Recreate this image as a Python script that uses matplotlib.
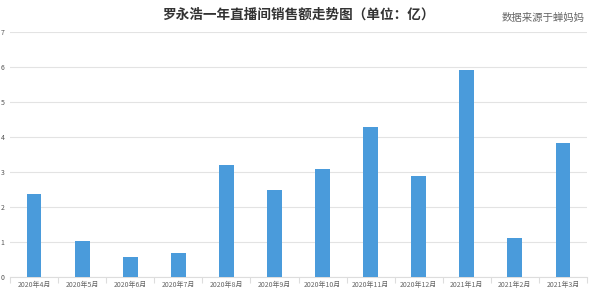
import numpy as np
import matplotlib.pyplot as plt

plt.rcParams['font.family'] = ['Noto Sans CJK SC', 'DejaVu Sans']

# Monthly live-stream sales (unit: 100 million yuan)
months = ['2020年4月', '2020年5月', '2020年6月', '2020年7月', '2020年8月', '2020年9月',
          '2020年10月', '2020年11月', '2020年12月', '2021年1月', '2021年2月', '2021年3月']
sales = [2.37, 1.03, 0.57, 0.69, 3.2, 2.49, 3.09, 4.29, 2.89, 5.91, 1.11, 3.83]
yticks = [0, 1, 2, 3, 4, 5, 6, 7]

fig = plt.figure(figsize=(6, 2.93), dpi=100)
ax = fig.add_axes([10/600, 16/293, 577/600, 245/293])

x = np.arange(len(months))
ax.bar(x, sales, width=0.31, color='#4a9bdb', zorder=3)

ax.set_xlim(-0.5, len(months) - 0.5)
ax.set_ylim(0, 7)
ax.set_yticks(yticks)
ax.set_yticklabels([str(v) for v in yticks], fontsize=5, color='#555555')
ax.yaxis.grid(True, color='#e3e3e3', linewidth=0.8, zorder=0)
ax.tick_params(axis='y', length=0, pad=4)

ax.set_xticks(x)
ax.set_xticklabels(months, fontsize=5, color='#666666')
ax.tick_params(axis='x', length=0, pad=3)
ax.set_xticks(np.arange(len(months) + 1) - 0.5, minor=True)
ax.tick_params(axis='x', which='minor', length=4, color='#dddddd', width=0.8)

for s in ['top', 'right', 'left']:
    ax.spines[s].set_visible(False)
ax.spines['bottom'].set_color('#dddddd')
ax.spines['bottom'].set_linewidth(0.8)

fig.text(298/600, 1 - 15/293, '罗永浩一年直播间销售额走势图（单位：亿）', ha='center', va='center',
         fontsize=9.8, fontweight='bold', color='#333333')
fig.text(585/600, 1 - 18/293, '数据来源于蝉妈妈', ha='right', va='center',
         fontsize=7.5, color='#666666')

fig.savefig('out.png', dpi=100)
